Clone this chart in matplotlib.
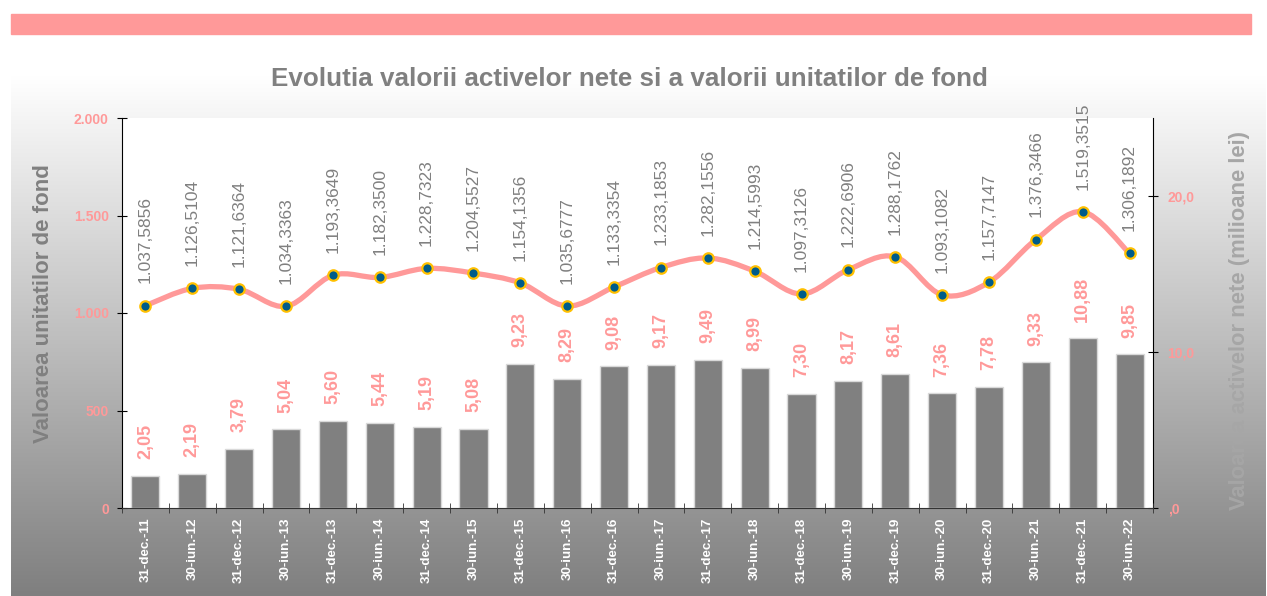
import matplotlib.pyplot as plt
import numpy as np
from matplotlib.path import Path
from matplotlib.patches import PathPatch, Rectangle
from matplotlib.colors import LinearSegmentedColormap

plt.rcParams['font.family'] = ['Liberation Sans', 'DejaVu Sans']

dates = ["31-dec.-11", "30-iun.-12", "31-dec.-12", "30-iun.-13", "31-dec.-13", "30-iun.-14",
         "31-dec.-14", "30-iun.-15", "31-dec.-15", "30-iun.-16", "31-dec.-16", "30-iun.-17",
         "31-dec.-17", "30-iun.-18", "31-dec.-18", "30-iun.-19", "31-dec.-19", "30-iun.-20",
         "31-dec.-20", "30-iun.-21", "31-dec.-21", "30-iun.-22"]
vuan = [1037.5856, 1126.5104, 1121.6364, 1034.3363, 1193.3649, 1182.3500, 1228.7323,
        1204.5527, 1154.1356, 1035.6777, 1133.3354, 1233.1853, 1282.1556, 1214.5993,
        1097.3126, 1222.6906, 1288.1762, 1093.1082, 1157.7147, 1376.3466, 1519.3515,
        1306.1892]
van = [2.05, 2.19, 3.79, 5.04, 5.60, 5.44, 5.19, 5.08, 9.23, 8.29, 9.08, 9.17, 9.49,
       8.99, 7.30, 8.17, 8.61, 7.36, 7.78, 9.33, 10.88, 9.85]

pink = "#FF9999"
gray = "#808080"

def fmt_ro(v, dec):
    s = f"{v:,.{dec}f}"
    return s.replace(",", "X").replace(".", ",").replace("X", ".")

fig = plt.figure(figsize=(12.67, 5.96), dpi=100)

# fundal cu degrade
bg = fig.add_axes([11/1267, 0, 1 - 12/1267, 1 - 75/596], zorder=-10)
grad = np.linspace(0, 1, 256).reshape(-1, 1)
bg.imshow(grad, aspect="auto", cmap=LinearSegmentedColormap.from_list("g", ["#7F7F7F", "#FFFFFF"]),
          extent=[0, 1, 0, 1], origin="lower")
bg.axis("off")

# banda roz sus
fig.patches.append(Rectangle((11/1267, 1 - 34/596), 1240/1267, 20/596,
                             transform=fig.transFigure, color=pink, zorder=5))

ax = fig.add_axes([122/1267, 88/596, 1031/1267, 390/596])
ax2 = ax.twinx()
ax.set_zorder(ax2.get_zorder() + 1)
ax.patch.set_visible(False)
ax2.patch.set_visible(True)
ax2.patch.set_facecolor("white")

x = np.arange(len(dates))

# bare - activ net (axa dreapta)
ax2.bar(x, van, width=0.6, color=gray, edgecolor="#D9D9D9", linewidth=1)
for xi, v in zip(x, van):
    ax2.annotate(fmt_ro(v, 2), (xi, v), xytext=(0, 12), textcoords="offset points",
                 rotation=90, ha="center", va="bottom", color=pink,
                 fontsize=13, fontweight="bold")
ax2.set_ylim(0, 25)
ax2.set_yticks([0, 10, 20])
ax2.set_yticklabels([",0", "10,0", "20,0"], color=pink, fontsize=10, fontweight="bold")

# linie netezita - VUAN (axa stanga)
pts = np.column_stack([x, vuan])
verts = [pts[0]]
codes = [Path.MOVETO]
n = len(pts)
for i in range(n - 1):
    p0 = pts[i - 1] if i > 0 else pts[i]
    p1, p2 = pts[i], pts[i + 1]
    p3 = pts[i + 2] if i + 2 < n else pts[i + 1]
    verts += [p1 + (p2 - p0) / 6, p2 - (p3 - p1) / 6, p2]
    codes += [Path.CURVE4] * 3
ax.add_patch(PathPatch(Path(verts, codes), facecolor="none", edgecolor=pink,
                       lw=3.8, capstyle="round", zorder=3))
ax.plot(x, vuan, linestyle="none", marker="o", markersize=7.5, markerfacecolor="#005C8A",
        markeredgecolor="#FFC000", markeredgewidth=1.6, zorder=4)
for xi, v in zip(x, vuan):
    ax.annotate(fmt_ro(v, 4), (xi, v), xytext=(0, 16), textcoords="offset points",
                rotation=90, ha="center", va="bottom", color=gray, fontsize=12.5)

ax.set_xlim(-0.5, len(dates) - 0.5)
ax.set_ylim(0, 2000)
ax.set_yticks([0, 500, 1000, 1500, 2000])
ax.set_yticklabels(["0", "500", "1.000", "1.500", "2.000"], color=pink,
                   fontsize=10, fontweight="bold")
ax.set_xticks(x)
ax.set_xticklabels(dates, rotation=90, color="white", fontsize=9.6, fontweight="bold")
ax.set_xticks(np.arange(-0.5, len(dates)), minor=True)
ax.tick_params(axis="x", which="major", length=0, pad=7)
ax.tick_params(axis="x", which="minor", length=7, direction="inout", color="#333333")
ax.tick_params(axis="y", length=7, direction="inout", pad=6)
ax2.tick_params(axis="y", length=7, direction="inout", pad=7)

for a in (ax, ax2):
    a.spines["top"].set_visible(False)
ax2.spines["left"].set_visible(False)
ax2.spines["bottom"].set_visible(False)
ax.spines["right"].set_visible(False)
ax.spines["bottom"].set_color("#333333")

fig.text(0.497, 1 - 79/596, "Evolutia valorii activelor nete si a valorii unitatilor de fond",
         ha="center", va="center", fontsize=18.7, fontweight="bold", color=gray)
fig.text(44/1267, 1 - 304/596, "Valoarea unitatilor de fond", rotation=90,
         ha="center", va="center", fontsize=16, fontweight="bold", color=gray)
fig.text(1240/1267, 1 - 321/596, "Valoarea activelor nete (milioane lei)", rotation=90,
         ha="center", va="center", fontsize=15.8, fontweight="bold", color="#A6A6A6")

fig.savefig("out.png", dpi=100)
